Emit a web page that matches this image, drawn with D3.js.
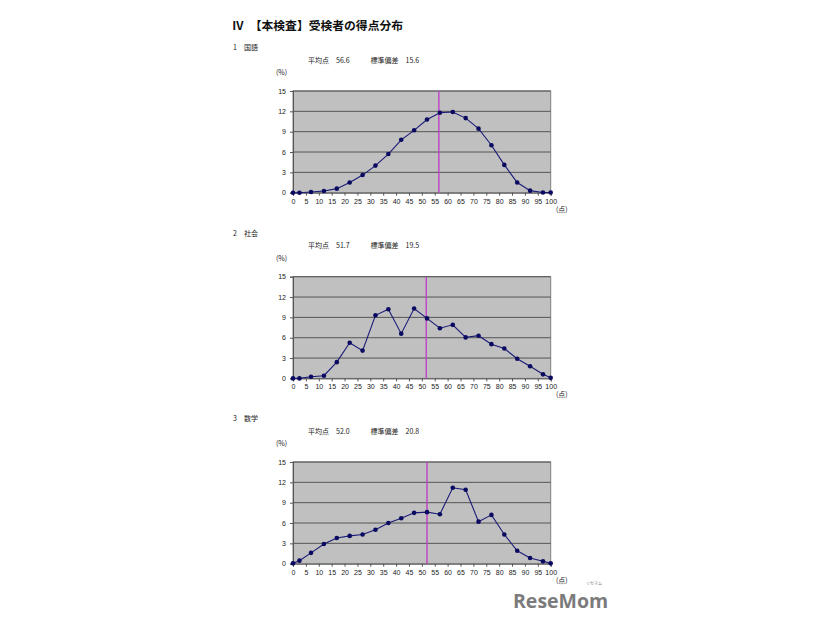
<!DOCTYPE html>
<html><head><meta charset="utf-8">
<script src="https://cdn.jsdelivr.net/npm/d3@7"></script>
<style>body{margin:0;background:#fff}svg{display:block}text{font-family:"Noto Sans CJK JP","Noto Sans",sans-serif}</style>
</head><body>
<script>
const title = "Ⅳ　【本検査】受検者の得点分布";
const xPoints = [0, 2.5, 7, 12, 17, 22, 27, 32, 37, 42, 47, 52, 57, 62, 67, 72, 77, 82, 87, 92, 97, 100];
const xTicks = [0,5,10,15,20,25,30,35,40,45,50,55,60,65,70,75,80,85,90,95,100];
const yTicks = [0,3,6,9,12,15];
const subjects = ["1　国語", "2　社会", "3　数学"];
const means = [56.6, 51.7, 52.0];
const stdevs = [15.6, 19.5, 20.8];
const kokugo = [0, 0, 0.1, 0.25, 0.6, 1.5, 2.6, 4.0, 5.7, 7.8, 9.2, 10.8, 11.8, 11.9, 11.0, 9.45, 7.0, 4.1, 1.5, 0.3, 0.02, 0.02];
const shakai = [0, 0, 0.25, 0.4, 2.4, 5.25, 4.1, 9.3, 10.2, 6.6, 10.3, 8.85, 7.4, 7.9, 6.05, 6.3, 5.05, 4.4, 2.9, 1.8, 0.6, 0.1];
const sugaku = [0.05, 0.45, 1.6, 2.9, 3.8, 4.1, 4.3, 5.0, 6.0, 6.7, 7.5, 7.6, 7.3, 11.2, 10.9, 6.2, 7.2, 4.3, 1.9, 0.85, 0.35, 0.05];
const seriesList = [kokugo, shakai, sugaku];

const W = 826, H = 620;
const svg = d3.select("body").append("svg").attr("width", W).attr("height", H);

svg.append("text").attr("x", 232).attr("y", 29.5)
  .attr("font-size", 11.8).attr("font-weight", "bold").attr("fill", "#111").text(title);

const plotL = 293, plotR = 550.7, plotH = 101.7;
const tops = [91, 276.7, 462];
const x = d3.scaleLinear().domain([0, 100]).range([plotL, plotR]);

seriesList.forEach((vals, i) => {
  const top = tops[i];
  const y = d3.scaleLinear().domain([0, 15]).range([top + plotH, top]);
  const g = svg.append("g");
  g.append("text").attr("x", 233).attr("y", top - 41).attr("font-size", 7).attr("fill", "#222").text(subjects[i]);
  g.append("text").attr("x", 308).attr("y", top - 28.5).attr("font-size", 7).attr("fill", "#222")
    .attr("xml:space", "preserve")
    .text("平均点　" + means[i].toFixed(1) + "　　　標準偏差　" + stdevs[i].toFixed(1));
  g.append("text").attr("x", 276).attr("y", top - 16).attr("font-size", 7).attr("fill", "#222").text("(%)");
  g.append("text").attr("x", 556).attr("y", top + plotH + 19).attr("font-size", 7).attr("fill", "#222").text("(点)");
  g.append("rect").attr("x", plotL).attr("y", top).attr("width", plotR - plotL).attr("height", plotH)
    .attr("fill", "#c0c0c0").attr("stroke", "#808080").attr("stroke-width", 1);
  g.selectAll("line.grid").data(yTicks.filter(d => d > 0)).join("line")
    .attr("x1", plotL).attr("x2", plotR).attr("y1", d => y(d)).attr("y2", d => y(d))
    .attr("stroke", "#555").attr("stroke-width", 1);
  const ya = d3.axisLeft(y).tickValues(yTicks).tickSize(3).tickPadding(4);
  const yg = g.append("g").attr("transform", `translate(${plotL},0)`).call(ya);
  const xa = d3.axisBottom(x).tickValues(xTicks).tickSize(3).tickPadding(3);
  const xg = g.append("g").attr("transform", `translate(0,${top + plotH})`).call(xa);
  [yg, xg].forEach(a => {
    a.select(".domain").attr("stroke", "#555");
    a.selectAll(".tick line").attr("stroke", "#555");
    a.selectAll(".tick text").attr("font-size", 7).attr("fill", "#222")
      .style("font-family", '"Liberation Sans", Arial, sans-serif');
  });
  g.append("line").attr("x1", x(means[i])).attr("x2", x(means[i])).attr("y1", top).attr("y2", top + plotH)
    .attr("stroke", "#c040c8").attr("stroke-width", 1.4);
  const pts = xPoints.map((xv, k) => [xv, vals[k]]);
  g.append("path").datum(pts).attr("fill", "none").attr("stroke", "#1a1a78").attr("stroke-width", 1.1)
    .attr("d", d3.line().x(d => x(d[0])).y(d => y(d[1])));
  g.selectAll("circle").data(pts).join("circle")
    .attr("cx", d => x(d[0])).attr("cy", d => y(d[1])).attr("r", 2.3).attr("fill", "#0a0a60");
});

svg.append("text").attr("x", 513).attr("y", 607.5).attr("font-size", 19.5).attr("font-weight", "bold")
  .attr("fill", "#7b7b7b").style("font-family", '"Open Sans","Noto Sans",sans-serif')
  .text("ReseMom");
svg.append("text").attr("x", 586).attr("y", 585).attr("font-size", 4).attr("fill", "#7b7b7b").text("リセマム");
</script>
</body></html>
